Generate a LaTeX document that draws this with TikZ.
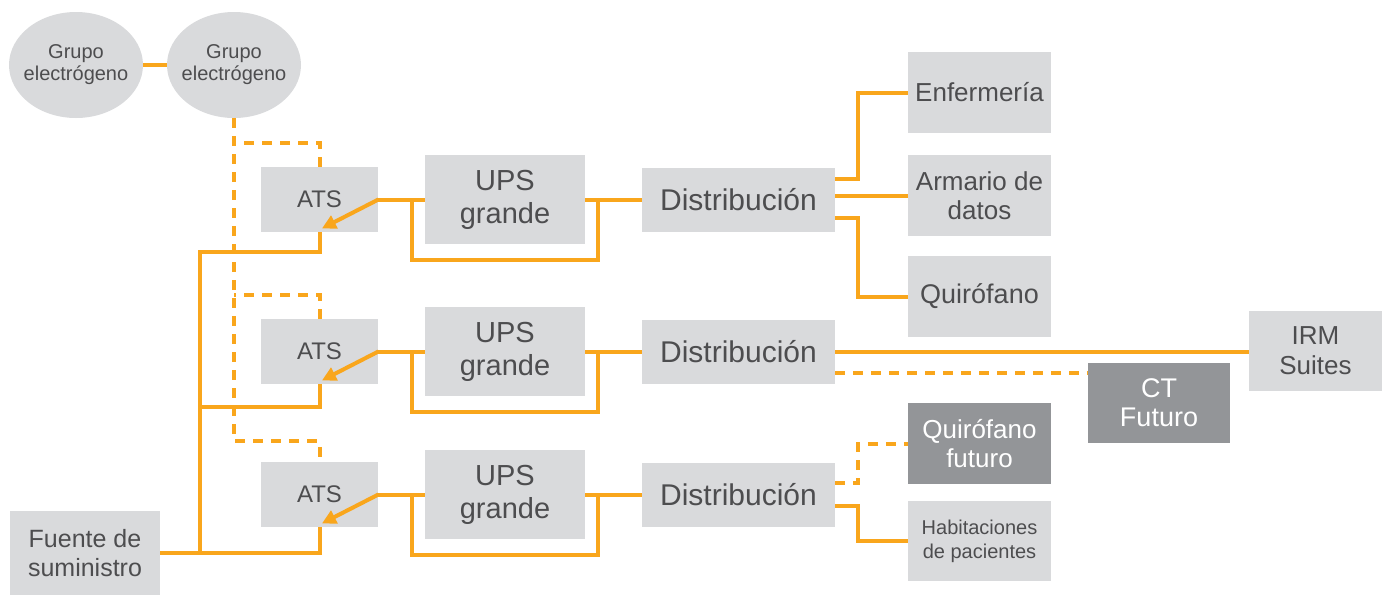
\documentclass[tikz,border=0pt]{standalone}
\usepackage{fontspec}
\setmainfont{Liberation Sans}
\usetikzlibrary{shapes.geometric,arrows.meta}
\definecolor{feedorange}{HTML}{F9A61C}
\definecolor{boxgray}{HTML}{D9DADC}
\definecolor{futuregray}{HTML}{939598}
\definecolor{ink}{HTML}{4D4D4F}
\tikzset{
  unit/.style={fill=boxgray,text=ink,inner sep=0pt,align=center},
  future/.style={fill=futuregray,text=white,inner sep=0pt,align=center},
  genset/.style={ellipse,fill=boxgray,text=ink,inner sep=-2.6pt,align=center,
    minimum width=67pt,minimum height=53pt,font=\fontsize{10}{11}\selectfont},
  feed/.style={draw=feedorange,line width=2pt},
  standby/.style={draw=feedorange,line width=2pt,dash pattern=on 5pt off 4pt},
  switch/.style={feed,-{Triangle[length=7pt,width=7pt]}},
}
\begin{document}
\begin{tikzpicture}[x=0.5pt,y=-0.5pt]
        \useasboundingbox (0,0) rectangle (1382,595);
        % sources
        \node[genset] at (76,65) (gen1) {Grupo\\electrógeno};
        \node[genset] at (234,65) (gen2) {Grupo\\electrógeno};
        \node[unit,minimum width=75pt,minimum height=42pt,font=\fontsize{12.5}{14.5}\selectfont] at (85,553) (fuente) {Fuente de\\suministro};
        % transfer switches
        \node[unit,minimum width=58.5pt,minimum height=32.5pt,font=\fontsize{12}{14}\selectfont] at (319.5,199.5) (ats1) {ATS};
        \node[unit,minimum width=58.5pt,minimum height=32.5pt,font=\fontsize{12}{14}\selectfont] at (319.5,351.5) (ats2) {ATS};
        \node[unit,minimum width=58.5pt,minimum height=32.5pt,font=\fontsize{12}{14}\selectfont] at (319.5,494.5) (ats3) {ATS};
        % ups
        \node[unit,minimum width=80pt,minimum height=44.5pt,font=\fontsize{14.5}{16.5}\selectfont] at (505,199.5) (ups1) {UPS\\grande};
        \node[unit,minimum width=80pt,minimum height=44.5pt,font=\fontsize{14.5}{16.5}\selectfont] at (505,351.5) (ups2) {UPS\\grande};
        \node[unit,minimum width=80pt,minimum height=44.5pt,font=\fontsize{14.5}{16.5}\selectfont] at (505,494.5) (ups3) {UPS\\grande};
        % distribution
        \node[unit,minimum width=96.5pt,minimum height=32pt,font=\fontsize{15}{17}\selectfont] at (738.5,199.5) (dist1) {Distribución};
        \node[unit,minimum width=96.5pt,minimum height=32pt,font=\fontsize{15}{17}\selectfont] at (738.5,351.5) (dist2) {Distribución};
        \node[unit,minimum width=96.5pt,minimum height=32pt,font=\fontsize{15}{17}\selectfont] at (738.5,494.5) (dist3) {Distribución};
        % loads
        \node[unit,minimum width=71.5pt,minimum height=40.5pt,font=\fontsize{13}{14.5}\selectfont] at (979.5,92.5) (enf) {Enfermería};
        \node[unit,minimum width=71.5pt,minimum height=40.5pt,font=\fontsize{13}{14.5}\selectfont] at (979.5,195.5) (arm) {Armario de\\datos};
        \node[unit,minimum width=71.5pt,minimum height=40.5pt,font=\fontsize{13.5}{15}\selectfont] at (979.5,296.5) (quir) {Quirófano};
        \node[unit,minimum width=66.5pt,minimum height=40pt,font=\fontsize{13}{15}\selectfont] at (1315.5,351) (irm) {IRM\\Suites};
        \node[future,minimum width=71pt,minimum height=40pt,font=\fontsize{13.5}{14.5}\selectfont] at (1159,403) (ct) {CT\\Futuro};
        \node[future,minimum width=71.5pt,minimum height=40.5pt,font=\fontsize{13}{14.5}\selectfont] at (979.5,443.5) (qfut) {Quirófano\\futuro};
        \node[unit,minimum width=71.5pt,minimum height=40pt,font=\fontsize{10}{12}\selectfont] at (979.5,541) (hab) {Habitaciones\\de pacientes};
        \coordinate (bus) at (200,252);
        \coordinate[yshift=12pt] (tap1) at (ats1.north);
        \coordinate[yshift=12pt] (tap2) at (ats2.north);
        \coordinate[yshift=-10.75pt] (ctfeed) at (dist2.east);
        % generator and utility feeds
        \draw[feed] (gen1) -- (gen2);
        \draw[standby] (gen2.south) -- ++(0,323) -| (ats3.north);
        \draw[standby] (ats1.north) -- (tap1) -- (tap1 -| gen2.south);
        \draw[standby] (ats2.north) -- (tap2) -- (tap2 -| gen2.south);
        \draw[feed] (fuente) -| (ats3.south);
        \draw[feed] (ats1.south) |- (bus) -- (bus |- fuente.east);
        \draw[feed] (ats2.south) -- ++(0,23) -| (bus);
        % switch positions
        \draw[switch] (ats1.east) -- ([xshift=1.25pt,yshift=2pt]ats1.south);
        \draw[switch] (ats2.east) -- ([xshift=1.25pt,yshift=2pt]ats2.south);
        \draw[switch] (ats3.east) -- ([xshift=1.25pt,yshift=2pt]ats3.south);
        % ups with bypass
        \draw[feed] (ats1) -- (ups1) -- (dist1);
        \draw[feed] (ats2) -- (ups2) -- (dist2);
        \draw[feed] (ats3) -- (ups3) -- (dist3);
        \draw[feed] ([xshift=17pt]ats1.east) -- ++(0,60) -| ([xshift=6.5pt]ups1.east);
        \draw[feed] ([xshift=17pt]ats2.east) -- ++(0,60) -| ([xshift=6.5pt]ups2.east);
        \draw[feed] ([xshift=17pt]ats3.east) -- ++(0,60) -| ([xshift=6.5pt]ups3.east);
        % loads
        \draw[feed] ([yshift=10.5pt]dist1.east) -- ++(23,0) |- (enf);
        \draw[feed] (dist1.east |- arm.west) -- (arm.west);
        \draw[feed] ([yshift=-9pt]dist1.east) -- ++(23,0) |- (quir);
        \draw[feed] (dist2.east) -- (dist2.east -| irm.west);
        \draw[standby] (ctfeed) -- (ctfeed -| ct.west);
        \draw[standby] ([yshift=5.75pt]dist3.east) -- ++(23,0) |- (qfut);
        \draw[feed] ([yshift=-5.75pt]dist3.east) -- ++(23,0) |- (hab);
\end{tikzpicture}
\end{document}
